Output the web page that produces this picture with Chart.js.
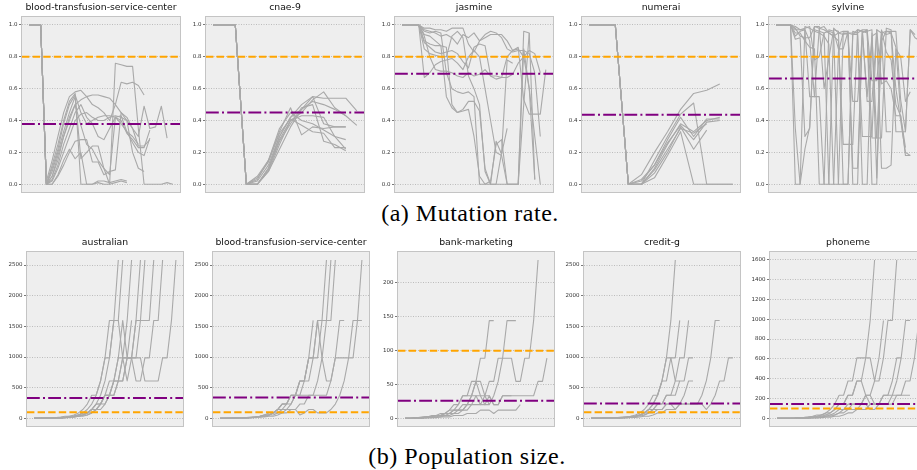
<!DOCTYPE html>
<html>
<head>
<meta charset="utf-8">
<script src="https://cdn.jsdelivr.net/npm/chart.js@4.4.0/dist/chart.umd.min.js"></script>
<style>
  body { margin: 0; background: #fff; width: 917px; height: 470px; overflow: hidden; position: relative; }
  canvas { position: absolute; }
  .caption { position: absolute; font-family: "Liberation Serif", serif; font-size: 24px; letter-spacing: 0.5px; line-height: 1; white-space: nowrap; transform: translateX(-50%); color: #000; }
</style>
</head>
<body>
<div class="caption" style="left:470px; top:201px;">(a) Mutation rate.</div>
<div class="caption" style="left:467px; top:444px;">(b) Population size.</div>
<script>
// ---------- (a) Mutation rate ----------
var mutTitles = ["blood-transfusion-service-center", "cnae-9", "jasmine", "numerai", "sylvine"];
var mutTicks = [0, 0.2, 0.4, 0.6, 0.8, 1.0];
var mutOrange = [0.8, 0.8, 0.8, 0.8, 0.8];
var mutPurple = [0.378, 0.45, 0.693, 0.436, 0.664];

var mutBlood = [
    [1,1,1,0,0.12,0.25,0.4,0.52,0.57,0,0,0,0.01,0,0,0.01,0.02,0.01],
    [1,1,1,0,0.1,0.22,0.38,0.5,0.56,0.45,0.38,0.4,0.42,0.43,0.43,0.42,0.38,0.33,0.3,0.25],
    [1,1,1,0.02,0.15,0.3,0.45,0.55,0.58,0.59,0.55,0.5,0.48,0.45,0.4,0.5,0.64,0.63,0.64,0.62,0.56],
    [1,1,1,0,0.08,0.2,0.33,0.45,0.55,0.16,0.2,0.24,0.24,0.1,0,0.76,0.75,0.74,0.74,0.35,0,0,0,0,0.01,0],
    [1,1,1,0,0.05,0.15,0.3,0.42,0.5,0.53,0.55,0.56,0.56,0.55,0.54,0.5,0.45,0.42,0.35,0.3,0.49,0.35,0.36,0.49,0.29],
    [1,1,1,0,0.02,0.1,0.2,0.3,0.4,0.44,0.45,0.42,0.4,0.4,0.42,0.43,0.42,0.4,0.35,0.24,0.24,0.28],
    [1,1,1,0,0,0.05,0.12,0.2,0.27,0.28,0.28,0.14,0.14,0.06,0.08,0.09,0.45,0.4,0.2,0.1,0.08],
    [1,1,1,0,0.03,0.12,0.25,0.35,0.45,0.5,0.42,0.38,0.3,0.28,0.35,0.42,0.4,0.32,0.28,0.23,0.23,0.34],
    [1,1,1,0,0,0.06,0.15,0.22,0.16,0.2,0,0,0.02,0.02,0.01,0.02,0.03,0.02],
    [1,1,1,0,0.05,0.18,0.3,0.4,0.5,0.37,0.25,0.22,0.15,0.1,0.06,0.42,0.43,0.33,0.26,0.2,0.18,0.29]
];
var mutCnae = [
    [1,1,1,0,0,0.1,0.3,0.42,0.5,0.55,0.54,0.54,0.54,0.46],
    [1,1,1,0,0.05,0.15,0.33,0.48,0.31,0.36,0.35,0.36,0.36],
    [1,1,1,0,0,0.08,0.25,0.4,0.45,0.53,0.58,0.48,0.43,0.37],
    [1,1,1,0,0.02,0.12,0.3,0.42,0.47,0.55,0.38,0.36,0.36],
    [1,1,1,0,0,0.1,0.28,0.4,0.43,0.43,0.42,0.3,0.28],
    [1,1,1,0,0,0.08,0.22,0.36,0.47,0.52,0.5,0.47,0.43],
    [1,1,1,0,0.04,0.14,0.32,0.41,0.37,0.33,0.32,0.23,0.23],
    [1,1,1,0,0,0.09,0.27,0.38,0.48,0.5,0.27,0.25,0.21],
    [1,1,1,0,0.03,0.15,0.35,0.45,0.4,0.38,0.34,0.3,0.22]
];
var mutJasmine = [
    [1,1,1,1,0.98,0.98,0.97,0.97,0.96,0.98,0.98,0.98,0.88,0.83,0.9,0.92,0.94,0.94,0.94,0.9,0.84,0.85,0.8,0.6,0.03],
    [1,1,1,1,0.93,0.8,0.72,0.71,0.71,0.7,0.68,0.67,0.7,0.68,0.69,0.72,0.68,0.66,0.67,0.8,0.84,0.86,0.53,0.44,0.44,0.44,0.72],
    [1,1,1,1,0.9,0.88,0.87,0.87,0.55,0.48,0.45,0.47,0.52,0.52,0.46,0.1,0,0,0,0,0,0,0.96,0.95,0.03],
    [1,1,1,1,0.96,0.95,0.96,0.95,0.7,0.6,0.58,0.57,0.58,0.55,0,0,0,0,0.2,0.78,0.76],
    [1,1,1,1,0.85,0.82,0.81,0.8,0.8,0.93,0.96,0.92,0.68,0.6,0.5,0.08,0,0.27,0.19,0.35],
    [1,1,1,1,0.67,0.7,0.75,0.77,0.78,0.79,0.76,0.72,0.8,0.84,0.8,0.6,0.4,0.2,0.18,0,0,0,0.85,0.6,0.3,0],
    [1,1,1,1,0.97,0.96,0.95,0.93,0.94,0.92,0.88,0.94,0.92,0.95,0.9,0.94,0.96,0.95,0.92,0.85,0.83,0.84,0.84,0.82,0.7,0.3],
    [1,1,1,1,0.94,0.93,0.9,0.87,0.86,0.5,0.45,0.46,0.47,0.3,0.05,0,0.02,0.25,0.28,0,0,0,0.5,0.95],
    [1,1,1,1,0.89,0.86,0.83,0.82,0.83,0.84,0.82,0.77,0.73,0.86,0.88,0.87,0.68,0.68,0.67,0.67,0.69,0.76,0.8,0.84,0.82,0.7]
];
var mutNumerai = [
    [1,1,1,0,0.06,0.2,0.33,0.47,0.57,0.59,0.63],
    [1,1,1,0,0,0.15,0.3,0.44,0.51,0,0,0],
    [1,1,1,0,0,0.1,0.25,0.38,0.33,0.4,0.42],
    [1,1,1,0,0.03,0.12,0.26,0.37,0.28,0.39,0.4],
    [1,1,1,0,0,0.07,0.2,0.36,0.22,0.34],
    [1,1,1,0,0,0.04,0.18,0.33,0,0,0,0],
    [1,1,1,0,0.02,0.12,0.28,0.42,0.3,0.41,0.41],
    [1,1,1,0,0,0.09,0.22,0.35,0.32,0.38]
];
var mutSylvine = [
    [1,1,1,1,0.35,0,0.22,0.36,0.99,0.98,0.99,0.95,0.93,0.9,0.25,0.25,0.25,0.97,0.96,0.52,0.52,0.97,0.63,0.65,0.6,0.43,0.43,0.18,0.18],
    [1,1,1,1,0.99,0.97,0.97,0.9,0.55,0.55,0,0,0.98,0.95,0.94,0.95,0.95,0.95,0,0,0.95,0.29,0.29,0.98,0.97,0.33,0.33,0.33,0.97,0.92,0.9],
    [1,1,1,1,0,0,0.99,0.98,0.96,0.95,0.93,0.88,0,0,0.95,0.95,0.94,0.97,0.96,0.55,0.93,0.95,0.1,0.1,0.12,0.85,0.8,0.52,0.58],
    [1,1,1,1,0.98,0.93,0.92,0.92,0.99,0.99,0.6,0.79,0.97,0.96,0,0,0.96,0.95,0.97,0.97,0,0,0.96,0.94,0.95,0.6,0.4,0.2,0.18],
    [1,1,1,1,0.95,0.95,0.9,0.86,0.85,0,0,0.97,0.96,0.85,0.85,0.96,0,0,0.96,0.96,0.97,0.04,0.97,0.83,0.78,0.5,0.43,0.23],
    [1,1,1,1,0.97,0.97,0.98,0.99,0.78,0.8,0.95,0.96,0.95,0,0,0,0.94,0.94,0.3,0.3,0.3,0.97,0.95,0.96,0.96,0.96,0.53,0.33,0.97,0.94],
    [1,1,1,1,0.93,0.96,0.97,0.55,0.55,0.98,0.97,0.95,0.93,0.95,0.96,0.96,0.1,0.1,0.96,0.95,0.29,0.29,0.9,0.96,0.95,0.86,0.45],
    [1,1,1,1,0.91,0.92,0.3,0.35,0.97,0.96,0.95,0,0,0.83,0.95,0.94,0.52,0.52,0.95,0.97,0.65,0.65,0.95,0.33,0.33]
];

// ---------- (b) Population size ----------
var popTitles = ["australian", "blood-transfusion-service-center", "bank-marketing", "credit-g", "phoneme"];
var popTicks = [
    [0, 500, 1000, 1500, 2000, 2500],
    [0, 500, 1000, 1500, 2000, 2500],
    [0, 50, 100, 150, 200],
    [0, 500, 1000, 1500, 2000, 2500],
    [0, 200, 400, 600, 800, 1000, 1200, 1400, 1600]
];
var popOrange = [100, 100, 100, 100, 100];
var popPurple = [330, 341, 26.7, 243, 144];

var popAustralian = [
    [1,2,3,3,5,8,8,13,21,34,55,89,144,233,377,610,987,1597,1597,2584],
    [1,2,3,5,8,13,21,34,34,55,89,144,233,377,377,610,987,987,1597,1597,2584],
    [1,1,2,3,5,5,8,13,21,34,55,89,89,144,233,377,610,987,1597,1597,987,1597,2584],
    [1,2,2,3,5,8,13,13,21,34,55,55,89,144,233,233,377,377,610,610,610,987,1597],
    [1,1,2,3,3,5,8,13,21,21,34,55,89,144,144,233,377,610,610,987,987,610,987,1597,2584],
    [1,2,3,5,5,8,13,21,34,34,55,89,89,144,233,233,377,377,610,987,1597,987,987,1597,1597,2584],
    [1,1,2,2,3,5,8,13,13,21,34,55,89,89,144,233,377,377,377,610,987,987,987,987,1597,1597,1597,2584],
    [1,1,2,3,5,8,8,13,21,34,34,55,55,89,144,233,233,377,610,610,987,987,987,610,610,987,987,1597,1597,2584],
    [1,1,2,2,3,5,5,8,13,21,34,34,55,89,144,144,233,377,377,610,610,987,987,987,987,610,610,610,610,987,987,1597,2584]
];
var popBlood = [
    [1,1,2,3,5,8,13,13,21,34,55,55,89,144,233,233,377,377,610,610,987,1597],
    [1,2,3,3,5,8,13,21,21,34,55,89,89,144,233,233,377,377,610,610,987,987,987,1597,2584],
    [1,1,2,3,5,5,8,13,21,34,34,55,89,144,144,233,233,377,610,610,987,987,1597,1597,1597,2584],
    [1,2,2,3,5,8,8,13,21,34,55,55,89,144,233,233,377,377,377,610,610,987,1597,987,610,610,987,1597,1597],
    [1,1,2,3,3,5,8,13,13,21,34,55,89,89,144,144,233,377,377,377,377,377,610,987,1597,1597,2584],
    [1,1,2,3,3,5,8,13,21,21,34,55,55,89,89,144,144,144,233,233,377,377,377,377,377,610,987,987,987,987,1597,1597,2584],
    [1,1,1,2,3,5,5,8,13,21,21,34,34,55,89,89,144,144,55,89,144,144,89,89,89,144,233,377,610,987,987,1597,1597]
];
var popBank = [
    [1,1,1,2,2,3,3,5,5,8,8,13,13,21,21,34,55,89,89,144,144],
    [1,1,1,1,2,2,3,3,5,5,8,8,13,13,21,34,55,55,34,21,34,55,89,144,144,144],
    [1,1,1,2,2,3,3,5,5,8,8,13,13,13,21,21,34,34,34,55,55,89,89,89,89,55,55,89,89,144,233],
    [1,1,1,1,2,2,2,3,3,5,5,8,8,13,13,21,21,21,21,34,21,21,34,34,34,34,34,34,34,34,55,55,89],
    [1,1,1,1,1,2,2,2,3,3,3,5,5,5,8,8,8,13,13,13,8,13,13,13,13,13,21],
    [1,1,1,2,2,3,3,5,5,8,13,13,21,34,34,34,34,21,34,34,21,21,34,34,34],
    [1,1,2,2,3,3,5,5,8,8,13,21,21,34,34,55,55,34,21,21]
];
var popCredit = [
    [1,1,2,3,5,8,8,13,21,21,34,55,89,144,233,377,610,987,1597,2584],
    [1,1,2,2,3,5,8,13,13,21,34,55,89,144,233,377,610,610,987,987,1597],
    [1,1,1,2,3,5,8,8,13,21,34,55,55,89,144,233,233,377,377,610,987,987,1597],
    [1,1,2,3,3,5,8,13,21,21,34,55,89,89,144,233,233,377,377,377,610,610,987,987],
    [1,2,2,3,5,5,8,13,21,34,34,55,89,144,144,144,144,233,233,233,233,377,610,610],
    [1,1,2,3,3,5,8,8,13,21,34,34,55,89,89,144,144,233,233,144,233,233,233,233,233,377,610,987,1597,1597],
    [1,1,1,2,2,3,5,5,8,13,13,21,34,34,55,89,89,144,144,144,233,233,233,233,233,233,144,233,377,610,610,987,987],
    [1,1,2,3,5,8,13,21,21,34,55,89,144,233,377,377,610,987,987,610,610]
];
var popPhoneme = [
    [1,1,2,3,5,8,8,13,21,34,34,55,89,144,233,233,377,377,610,610,610,987,1597],
    [1,1,2,2,3,5,8,13,13,21,34,55,55,89,144,144,233,233,377,377,233,233,377,377,610,987,987,1597],
    [1,1,1,2,3,5,5,8,13,21,34,34,55,89,144,144,233,233,377,377,610,610,377,610,987],
    [1,1,1,2,2,3,5,5,8,13,13,21,34,34,55,89,89,144,144,144,233,144,144,144,233,233,233,377,610,987,987],
    [1,1,2,2,3,5,5,8,13,13,21,34,34,55,89,89,144,144,144,144,233,233,144,144,233,233,377,610,610],
    [1,1,1,2,2,3,3,5,8,8,13,21,21,34,55,55,89,89,89,144,144,89,89,144,144,144,144,233,233,233,233],
    [1,1,1,1,2,2,3,3,5,5,8,13,13,21,21,34,55,55,89,89,89,144,144,144,144,144,233,233,233,377,377,610,987]
];

// ---------- layout ----------
var AXIS_W = 30;
var TITLE_H = 18;
var row1 = { top: 17, height: 176, width: 158, lefts: [22, 206, 395, 582, 769] };
var row2 = { top: 252, height: 175, width: 156, lefts: [27, 213, 398, 584, 770] };

var panelFrame = {
    id: "panelFrame",
    beforeDraw: function (chart) {
        var a = chart.chartArea;
        var ctx = chart.ctx;
        ctx.save();
        ctx.fillStyle = "#eeeeee";
        ctx.fillRect(a.left, a.top, a.right - a.left, a.bottom - a.top);
        ctx.restore();
    },
    afterDatasetsDraw: function (chart) {
        var a = chart.chartArea;
        var ctx = chart.ctx;
        ctx.save();
        ctx.strokeStyle = "#c4c4c4";
        ctx.lineWidth = 1;
        ctx.strokeRect(Math.round(a.left) - 0.5, Math.round(a.top) - 0.5, Math.round(a.right - a.left) + 1, Math.round(a.bottom - a.top) + 1);
        ctx.restore();
    }
};

function makePanel(left, top, width, height, title, lines, ticks, orange, purple, decimals) {
    var canvas = document.createElement("canvas");
    canvas.width = AXIS_W + width + 4;
    canvas.height = TITLE_H + height + 4;
    canvas.style.left = (left - AXIS_W) + "px";
    canvas.style.top = (top - TITLE_H) + "px";
    document.body.appendChild(canvas);

    // matplotlib-like 5% margins around the data
    var n = 0, lo = Infinity, hi = -Infinity;
    for (var i = 0; i < lines.length; i++) {
        n = Math.max(n, lines[i].length - 1);
        for (var j = 0; j < lines[i].length; j++) {
            lo = Math.min(lo, lines[i][j]);
            hi = Math.max(hi, lines[i][j]);
        }
    }
    var xPad = 0.05 * n;
    var yPad = 0.05 * (hi - lo);

    var datasets = [
        {
            data: [{ x: -xPad, y: purple }, { x: n + xPad, y: purple }],
            borderColor: "#800080",
            borderWidth: 2,
            borderDash: [12.8, 3.2, 2, 3.2]
        },
        {
            data: [{ x: -xPad, y: orange }, { x: n + xPad, y: orange }],
            borderColor: "#ffa500",
            borderWidth: 2,
            borderDash: [7.4, 3.2]
        }
    ];
    for (var k = 0; k < lines.length; k++) {
        datasets.push({
            data: lines[k].map(function (v, idx) { return { x: idx, y: v }; }),
            borderColor: "#a9a9a9",
            borderWidth: 1.1
        });
    }

    return new Chart(canvas, {
        type: "line",
        data: { datasets: datasets },
        options: {
            responsive: false,
            animation: false,
            devicePixelRatio: 1,
            events: [],
            layout: { padding: { left: 0, right: 4, top: 0, bottom: 4 } },
            elements: {
                point: { radius: 0 },
                line: { tension: 0, borderJoinStyle: "round", fill: false }
            },
            scales: {
                x: { type: "linear", display: false, min: -xPad, max: n + xPad },
                y: {
                    type: "linear",
                    min: lo - yPad,
                    max: hi + yPad,
                    afterBuildTicks: function (scale) {
                        scale.ticks = ticks.map(function (v) { return { value: v }; });
                    },
                    afterFit: function (scale) { scale.width = AXIS_W; },
                    ticks: {
                        color: "#333",
                        padding: 1.5,
                        font: { family: "DejaVu Sans", size: 5.5 },
                        callback: function (v) { return v.toFixed(decimals); }
                    },
                    grid: {
                        color: "#9a9a9a",
                        lineWidth: 0.6,
                        drawTicks: true,
                        tickLength: 3,
                        tickColor: "#555",
                        tickWidth: 0.8,
                        tickBorderDash: []
                    },
                    border: { display: false, dash: [1, 1.5] }
                }
            },
            plugins: {
                legend: { display: false },
                tooltip: { enabled: false },
                title: {
                    display: true,
                    text: title,
                    fullSize: false,
                    color: "#111",
                    font: { family: "DejaVu Sans", size: 9.3, weight: "normal", lineHeight: "12px" },
                    padding: { top: 3, bottom: 3 }
                }
            }
        },
        plugins: [panelFrame]
    });
}

var mutLines = [mutBlood, mutCnae, mutJasmine, mutNumerai, mutSylvine];
var popLines = [popAustralian, popBlood, popBank, popCredit, popPhoneme];

for (var p = 0; p < 5; p++) {
    makePanel(row1.lefts[p], row1.top, row1.width, row1.height, mutTitles[p], mutLines[p], mutTicks, mutOrange[p], mutPurple[p], 1);
    makePanel(row2.lefts[p], row2.top, row2.width, row2.height, popTitles[p], popLines[p], popTicks[p], popOrange[p], popPurple[p], 0);
}
</script>
</body>
</html>
